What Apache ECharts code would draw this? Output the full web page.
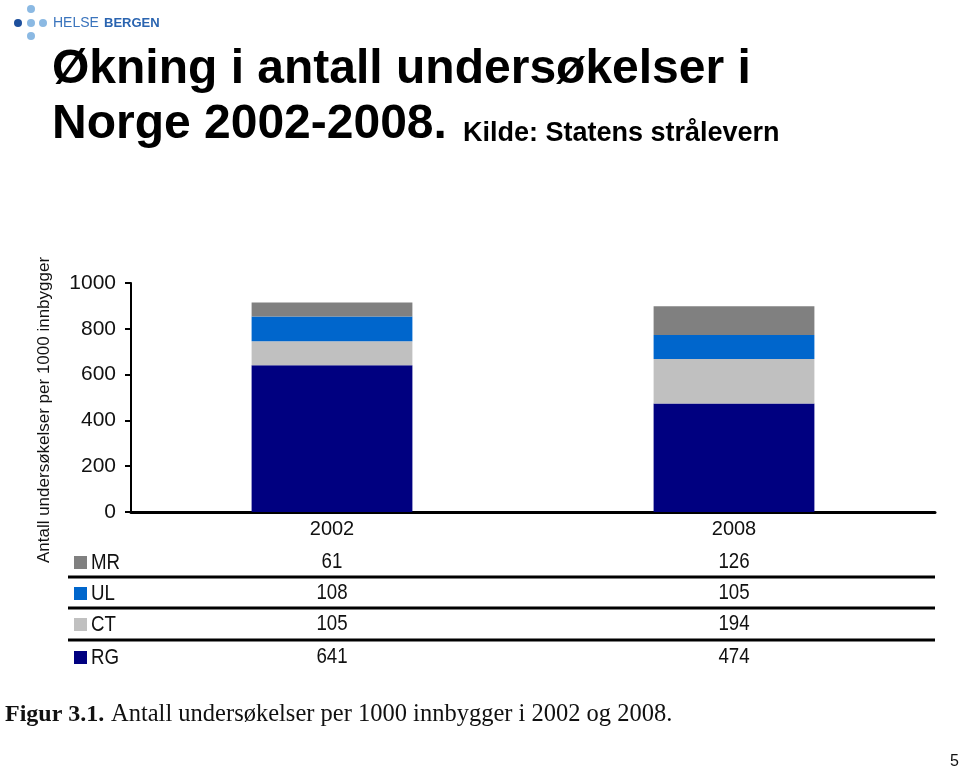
<!DOCTYPE html>
<html><head><meta charset="utf-8">
<script src="https://cdn.jsdelivr.net/npm/echarts@6/dist/echarts.min.js"></script>
<style>html,body{margin:0;padding:0;background:#fff}#c{width:960px;height:768px}</style>
</head><body><div id="c"></div>
<script>
const categories = ['2002', '2008'];
const seriesNames = ['RG', 'CT', 'UL', 'MR'];
const RG = [641, 474];
const CT = [105, 194];
const UL = [108, 105];
const MR = [61, 126];
const yTicks = [0, 200, 400, 600, 800, 1000];
const colors = { RG: '#000080', CT: '#c0c0c0', UL: '#0066cc', MR: '#808080' };
const values = { RG, CT, UL, MR };
const tableOrder = ['MR', 'UL', 'CT', 'RG'];

const chart = echarts.init(document.getElementById('c'), null, { renderer: 'canvas' });
const F = '"Liberation Sans", Arial, sans-serif';
const SERIF = '"Liberation Serif", "Times New Roman", serif';

chart.setOption({
  animation: false,
  backgroundColor: '#fff',
  grid: { left: 131, right: 25, top: 283, bottom: 256, containLabel: false, outerBoundsMode: 'none' },
  xAxis: {
    type: 'category', data: categories,
    axisLine: { lineStyle: { color: '#000', width: 3 } },
    axisTick: { show: false },
    axisLabel: { color: '#111', fontFamily: F, fontSize: 20, margin: 7 }
  },
  yAxis: {
    type: 'value', min: yTicks[0], max: yTicks[yTicks.length - 1], interval: 200,
    axisLine: { show: true, lineStyle: { color: '#000', width: 2 } },
    axisTick: { show: true, length: 6, lineStyle: { color: '#000', width: 2 } },
    axisLabel: { color: '#111', fontFamily: F, fontSize: 21, margin: 15, formatter: v => String(v) },
    splitLine: { show: false }
  },
  series: seriesNames.map(n => ({
    name: n, type: 'bar', stack: 'tot', data: values[n], barWidth: '40%',
    itemStyle: { color: colors[n] }
  }))
});

const g = [];
// Logo
g.push({ type: 'circle', shape: { cx: 18, cy: 23, r: 4 }, style: { fill: '#1d4f9c' } });
g.push({ type: 'circle', shape: { cx: 31, cy: 23, r: 4 }, style: { fill: '#8bb9e3' } });
g.push({ type: 'circle', shape: { cx: 43, cy: 23, r: 4 }, style: { fill: '#8bb9e3' } });
g.push({ type: 'circle', shape: { cx: 31, cy: 9, r: 4 }, style: { fill: '#8bb9e3' } });
g.push({ type: 'circle', shape: { cx: 31, cy: 36, r: 4 }, style: { fill: '#8bb9e3' } });
g.push({ type: 'text', x: 53, y: 23, style: { text: 'HELSE', fill: '#3a74bd', font: '14px ' + F, textVerticalAlign: 'middle' } });
g.push({ type: 'text', x: 104, y: 23, style: { text: 'BERGEN', fill: '#2a64b0', font: 'bold 13px ' + F, textVerticalAlign: 'middle' } });
// Title
g.push({ type: 'text', x: 52, y: 70, style: { text: 'Økning i antall undersøkelser i', fill: '#000', font: 'bold 48px ' + F, textVerticalAlign: 'middle' } });
g.push({ type: 'text', x: 52, y: 125, style: { text: 'Norge 2002-2008.', fill: '#000', font: 'bold 48px ' + F, textVerticalAlign: 'middle' } });
g.push({ type: 'text', x: 463, y: 134, style: { text: 'Kilde: Statens strålevern', fill: '#000', font: 'bold 27px ' + F, textVerticalAlign: 'middle' } });
// Y axis name
g.push({ type: 'text', x: 44, y: 410, rotation: Math.PI / 2, style: { text: 'Antall undersøkelser per 1000 innbygger', fill: '#111', font: '17px ' + F, textAlign: 'center', textVerticalAlign: 'middle' } });
// Table
const rowY = [562, 593, 624, 657];
const lineY = [577, 608, 640];
lineY.forEach(y => g.push({ type: 'line', shape: { x1: 68, y1: y, x2: 935, y2: y }, style: { stroke: '#000', lineWidth: 3 } }));
tableOrder.forEach((n, i) => {
  g.push({ type: 'rect', shape: { x: 74, y: rowY[i] - 6, width: 13, height: 13 }, style: { fill: colors[n] } });
  g.push({ type: 'text', x: 91, y: rowY[i] + 1, scaleX: 0.85, style: { text: n, fill: '#111', font: '22px ' + F, textVerticalAlign: 'middle' } });
  categories.forEach((c, j) => {
    const px = chart.convertToPixel({ xAxisIndex: 0 }, c);
    g.push({ type: 'text', x: px, y: rowY[i], scaleX: 0.85, style: { text: String(values[n][j]), fill: '#111', font: '22px ' + F, textAlign: 'center', textVerticalAlign: 'middle' } });
  });
});
// Caption
g.push({ type: 'text', x: 5, y: 715, style: { text: 'Figur 3.1.', fill: '#111', font: 'bold 24px ' + SERIF, textVerticalAlign: 'middle' } });
g.push({ type: 'text', x: 111, y: 715, style: { text: 'Antall undersøkelser per 1000 innbygger i 2002 og 2008.', fill: '#111', font: '24.5px ' + SERIF, textVerticalAlign: 'middle' } });
g.push({ type: 'text', x: 950, y: 762, style: { text: '5', fill: '#111', font: '16px ' + F, textVerticalAlign: 'middle' } });

chart.setOption({ graphic: g });
</script></body></html>
